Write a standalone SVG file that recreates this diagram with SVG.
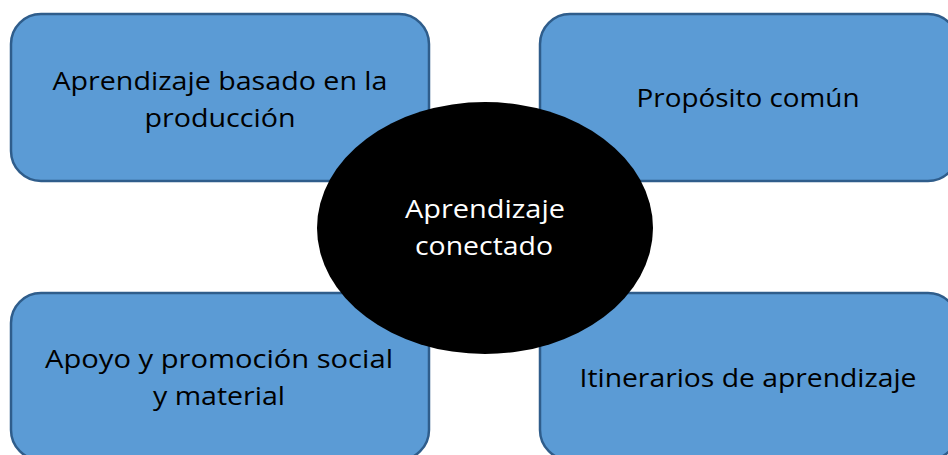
<svg xmlns="http://www.w3.org/2000/svg" width="948" height="455" viewBox="0 0 948 455">
<style>
.box{fill:#5B9BD5;stroke:#2F5D8B;stroke-width:2.5}
.t{font-family:"Open Sans",Lato,"DejaVu Sans",sans-serif;font-size:25px;fill:#000;text-anchor:middle}
.w{fill:#fff}
</style>
<rect width="948" height="455" fill="#fff"/>
<g id="n1"><rect class="box" x="11" y="14" width="418" height="167" rx="30"/>
<text class="t" x="220" y="90" textLength="335" lengthAdjust="spacingAndGlyphs">Aprendizaje basado en la</text>
<text class="t" x="220" y="127" textLength="151" lengthAdjust="spacingAndGlyphs">producción</text></g>
<g id="n2"><rect class="box" x="540" y="14" width="418" height="167" rx="30"/>
<text class="t" x="748" y="107" textLength="223" lengthAdjust="spacingAndGlyphs">Propósito común</text></g>
<g id="n3"><rect class="box" x="11" y="293" width="418" height="167" rx="30"/>
<text class="t" x="219" y="368" textLength="348" lengthAdjust="spacingAndGlyphs">Apoyo y promoción social</text>
<text class="t" x="219" y="405" textLength="132" lengthAdjust="spacingAndGlyphs">y material</text></g>
<g id="n4"><rect class="box" x="540" y="293" width="418" height="167" rx="30"/>
<text class="t" x="748" y="387" textLength="337" lengthAdjust="spacingAndGlyphs">Itinerarios de aprendizaje</text></g>
<g id="center"><ellipse cx="485" cy="228" rx="168" ry="126" fill="#000"/>
<text class="t w" x="485" y="218" textLength="160" lengthAdjust="spacingAndGlyphs">Aprendizaje</text>
<text class="t w" x="484" y="255" textLength="138" lengthAdjust="spacingAndGlyphs">conectado</text></g>
<g id="connectors"></g>
</svg>
